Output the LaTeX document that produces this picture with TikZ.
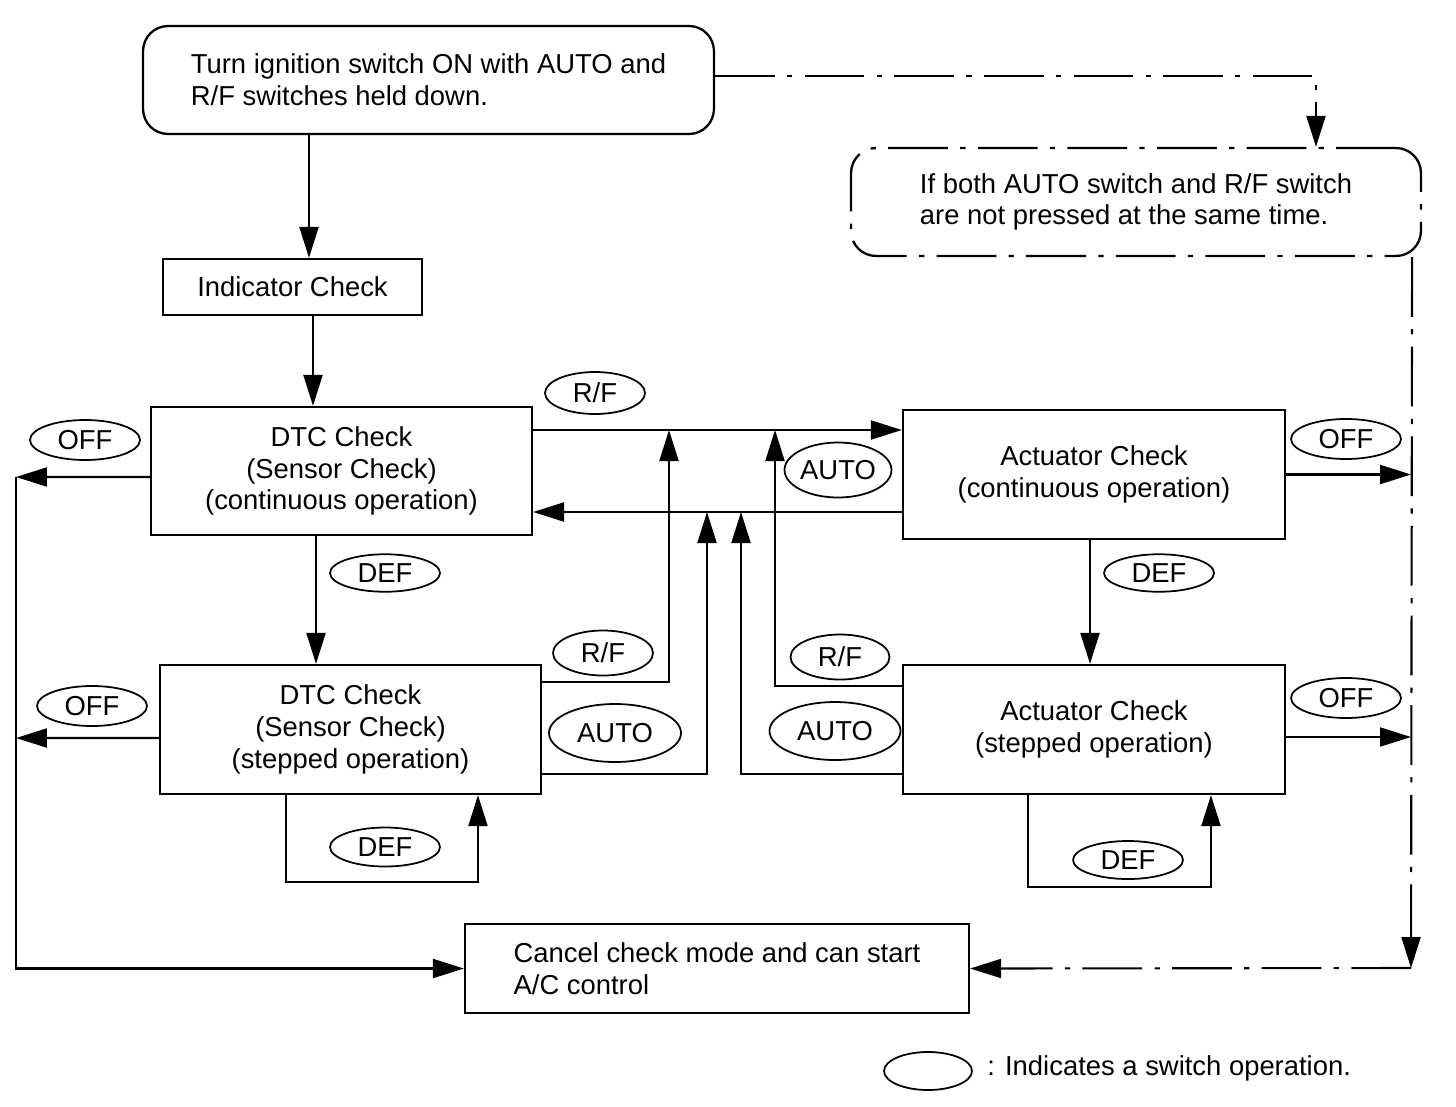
\documentclass[tikz,border=0pt]{standalone}
\usepackage{fontspec}
\setmainfont{Liberation Sans}
\usetikzlibrary{shapes.geometric}
\usetikzlibrary{arrows.meta,calc}

\begin{document}
\begin{tikzpicture} [
       x=0.02cm, y=-0.02cm,
       font=\fontsize{15.6}{18}\selectfont,
       etat/.style={rectangle, draw, line width=1.3pt, align=center, inner sep=0pt},
       touche/.style={ellipse, draw, line width=1pt, inner sep=0pt,
               minimum width=2.2cm, minimum height=0.8cm},
       line/.style     = { draw, line width=1.2pt, -{Triangle[length=0.62cm,width=0.38cm]} },
       pointille/.style = { dash pattern=on 34pt off 7pt on 3pt off 7pt },
       ]
       \useasboundingbox (0,0) rectangle (1456,1106);
       % boites
       \node (start) [etat, rounded corners=0.5cm, align=left, minimum width=11.42cm, minimum height=2.16cm] at (428.5,80) {Turn ignition switch ON with AUTO and\\R/F switches held down.};
       \node (notboth) [etat, pointille, rounded corners=0.5cm, align=left, minimum width=11.4cm, minimum height=2.16cm] at (1136,202) {If both AUTO switch and R/F switch\\are not pressed at the same time.};
       \node (indicator) [etat, minimum width=5.18cm, minimum height=1.12cm] at (292.5,287) {Indicator Check};
       \node (dtccont) [etat, minimum width=7.62cm, minimum height=2.56cm] at (341.5,471) {DTC Check\\(Sensor Check)\\(continuous operation)};
       \node (actcont) [etat, minimum width=7.64cm, minimum height=2.58cm] at (1094,474.5) {Actuator Check\\(continuous operation)};
       \node (dtcstep) [etat, minimum width=7.62cm, minimum height=2.58cm] at (350.5,729.5) {DTC Check\\(Sensor Check)\\(stepped operation)};
       \node (actstep) [etat, minimum width=7.64cm, minimum height=2.58cm] at (1094,729.5) {Actuator Check\\(stepped operation)};
       \node (cancel) [etat, align=left, minimum width=10.08cm, minimum height=1.78cm] at (717,968.5) {Cancel check mode and can start\\A/C control};
       % touches
       \node (rf1) [touche, minimum width=2cm, minimum height=0.84cm] at (595,393) {R/F};
       \node (auto1) [touche, minimum width=1.92cm, minimum height=1.1cm] at (838,470) {AUTO};
       \node (rf2) [touche, minimum width=2cm, minimum height=0.9cm] at (603,653) {R/F};
       \node (auto2) [touche, minimum width=2.64cm, minimum height=1.16cm] at (615,733) {AUTO};
       \node (rf3) [touche, minimum width=1.98cm, minimum height=0.9cm] at (840,657) {R/F};
       \node (auto3) [touche, minimum width=2.62cm, minimum height=1.16cm] at (835,731) {AUTO};
       \node (def1) [touche, minimum height=0.75cm] at (385,573) {DEF};
       \node (def2) [touche, minimum height=0.75cm] at (1159,573) {DEF};
       \node (def3) [touche, minimum height=0.78cm] at (385,847) {DEF};
       \node (def4) [touche, minimum height=0.76cm] at (1128,860) {DEF};
       \node (off1) [touche] at (85,440) {OFF};
       \node (off2) [touche] at (92,706) {OFF};
       \node (off3) [touche] at (1346,439) {OFF};
       \node (off4) [touche] at (1346,698) {OFF};
       \node (legende) [touche, minimum width=1.76cm, minimum height=0.76cm] at (928,1071) {};
       \node (legtexte) [anchor=west, inner sep=0pt] at (987,1068) {: Indicates a switch operation.};
       % points de jonction
       \coordinate (offtop) at (16,477);
       \coordinate (offmid) at (16,738);
       \coordinate (rbus) at (1411,968);
       \coordinate (rfA) at (669,430);
       \coordinate (autoA) at (707,512);
       \coordinate (rfB) at (775,430);
       \coordinate (autoB) at (741,512);
       \begin{scope}[every path/.style=line]
       \path ([xshift=0.33cm]indicator.north |- start.south) -- ([xshift=0.33cm]indicator.north);
       \path ([xshift=0.41cm]indicator.south) -- ([xshift=0.41cm]indicator.south |- dtccont.north);
       \path (dtccont.east |- rfA) -- (actcont.west |- rfA);
       \path (actcont.west |- autoA) -- (dtccont.east |- autoA);
       \path ([yshift=-0.36cm]dtcstep.north east) -| (rfA);
       \path ([yshift=0.42cm]dtcstep.south east) -| (autoA);
       \path ([yshift=-0.44cm]actstep.north west) -| (rfB);
       \path ([yshift=0.42cm]actstep.south west) -| (autoB);
       \path ([xshift=-0.51cm]dtccont.south) -- ([xshift=-0.51cm]dtccont.south |- dtcstep.north);
       \path ([xshift=-0.08cm]actcont.south) -- ([xshift=-0.08cm]actcont.south |- actstep.north);
       \path ([xshift=-1.29cm]dtcstep.south) -- ++(0,87) -| ([xshift=2.55cm]dtcstep.south);
       \path ([xshift=-1.32cm]actstep.south) -- ++(0,92) -| ([xshift=2.34cm]actstep.south);
       \path ([yshift=-0.12cm]dtccont.west) -- (offtop);
       \path ([yshift=-0.17cm]dtcstep.west) -- (offmid);
       \path (offtop) |- (cancel.west);
       \path (actcont.east) -- (actcont.east -| rbus);
       \path ([yshift=-0.15cm]actstep.east) -- ([yshift=-0.15cm]actstep.east -| rbus);
       \path[pointille] ([yshift=0.08cm]start.east) -| ([xshift=3.6cm]notboth.north);
       \path[pointille] ([xshift=-0.2cm]notboth.south east) -- (rbus);
       \path[pointille] (rbus) -- (cancel.east);
       \end{scope}
\end{tikzpicture}
\end{document}
